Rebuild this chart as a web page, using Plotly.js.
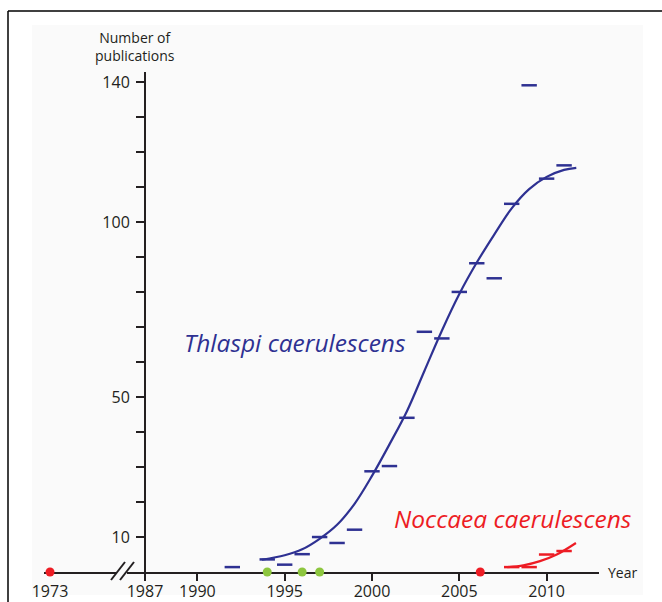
<!DOCTYPE html>
<html>
<head>
<meta charset="utf-8">
<script src="https://cdn.plot.ly/plotly-3.0.1.min.js"></script>
<style>html,body{margin:0;padding:0;background:#fff;}#chart{width:662px;height:602px;}</style>
</head>
<body>
<div id="chart"></div>
<script>
// ---- data ----
const thlaspiYears  = [1992, 1994, 1995, 1996, 1997, 1998, 1999, 2000, 2001, 2002, 2003, 2004, 2005, 2006, 2007, 2008, 2009, 2010, 2011];
const thlaspiCounts = [1.4, 3.6, 2.1, 5.1, 10.0, 8.3, 12.1, 28.8, 30.3, 44.1, 68.7, 66.8, 80.1, 88.3, 84.0, 105.3, 139.2, 112.5, 116.3];

const thlaspiFitYears  = [1993.7, 1995, 1996, 1997, 1998, 1999, 2000, 2001, 2002, 2003, 2004, 2005, 2006, 2007, 2008, 2009, 2010, 2011, 2011.7];
const thlaspiFitValues = [3.5, 4.8, 6.5, 9.5, 13.5, 19.5, 27.5, 36.5, 46.0, 57.5, 69.0, 79.5, 88.5, 96.5, 104.0, 109.5, 113.0, 115.0, 115.6];

const noccaeaYears  = [2008, 2009, 2010, 2011];
const noccaeaCounts = [1.4, 1.4, 5.0, 6.0];

const noccaeaFitYears  = [2007.75, 2008.67, 2009.62, 2010.58, 2011.68];
const noccaeaFitValues = [1.4, 1.9, 3.1, 5.0, 8.3];

const greenEventYears = [1994, 1996, 1997];
const greenEventValues = [0, 0, 0];
const redEventEarlyYears = [1973];
const redEventEarlyValues = [0];
const redEventLateYears = [2006.2];
const redEventLateValues = [0];

const earlyTickVals = [1973];
const earlyTickLabels = ['1973'];
const mainTickVals = [1987, 1990, 1995, 2000, 2005, 2010];
const mainTickLabels = ['1987', '1990', '1995', '2000', '2005', '2010'];
const yTickVals = [10, 20, 30, 40, 50, 60, 70, 80, 90, 100, 110, 120, 130, 140];
const yTickLabels = ['10', '', '', '', '50', '', '', '', '', '100', '', '', '', '140'];

const labelThlaspi = 'Thlaspi caerulescens';
const labelNoccaea = 'Noccaea caerulescens';
const yTitle = 'Number of<br>publications';
const xTitle = 'Year';

// ---- style ----
const BLUE = '#2e3192', RED = '#ed1c24', GREEN = '#8dc63f', INK = '#231f20';
const FONT = 'Open Sans, sans-serif';
const W = 662, H = 602, MT = 72, MB = 30;
const PH = H - MT - MB;
const px = v => v / W;
const py = v => (H - MB - v) / PH;

const traces = [
  {x: thlaspiFitYears, y: thlaspiFitValues, xaxis: 'x2', yaxis: 'y', mode: 'lines',
   line: {color: BLUE, width: 2.2, shape: 'spline', smoothing: 1}, cliponaxis: false, hoverinfo: 'skip'},
  {x: thlaspiYears, y: thlaspiCounts, xaxis: 'x2', yaxis: 'y', mode: 'markers',
   marker: {symbol: 'line-ew', size: 11, line: {color: BLUE, width: 2.5}}, cliponaxis: false, hoverinfo: 'skip'},
  {x: noccaeaFitYears, y: noccaeaFitValues, xaxis: 'x2', yaxis: 'y', mode: 'lines',
   line: {color: RED, width: 2.2, shape: 'spline', smoothing: 1}, cliponaxis: false, hoverinfo: 'skip'},
  {x: noccaeaYears, y: noccaeaCounts, xaxis: 'x2', yaxis: 'y', mode: 'markers',
   marker: {symbol: 'line-ew', size: 11, line: {color: RED, width: 2.5}}, cliponaxis: false, hoverinfo: 'skip'},
  {x: greenEventYears, y: greenEventValues, xaxis: 'x2', yaxis: 'y', mode: 'markers',
   marker: {symbol: 'circle', size: 9, color: GREEN}, cliponaxis: false, hoverinfo: 'skip'},
  {x: redEventLateYears, y: redEventLateValues, xaxis: 'x2', yaxis: 'y', mode: 'markers',
   marker: {symbol: 'circle', size: 9, color: RED}, cliponaxis: false, hoverinfo: 'skip'},
  {x: redEventEarlyYears, y: redEventEarlyValues, xaxis: 'x', yaxis: 'y', mode: 'markers',
   marker: {symbol: 'circle', size: 9, color: RED}, cliponaxis: false, hoverinfo: 'skip'}
];

const axisCommon = {
  showline: true, linecolor: INK, linewidth: 2, showgrid: false, zeroline: false,
  ticks: 'outside', ticklen: 8, tickwidth: 2, tickcolor: INK,
  tickfont: {family: FONT, size: 16, color: INK}, layer: 'below traces', fixedrange: true
};

const layout = {
  width: W, height: H,
  margin: {l: 0, r: 0, t: MT, b: MB, pad: 0},
  paper_bgcolor: '#ffffff', plot_bgcolor: 'rgba(0,0,0,0)',
  showlegend: false,
  xaxis: Object.assign({}, axisCommon, {
    domain: [px(44), px(116)], range: [1972.656, 1976.78], anchor: 'y',
    tickvals: earlyTickVals, ticktext: earlyTickLabels, ticklen: 7, tickcolor: 'rgba(0,0,0,0)',
    ticklabelstandoff: -3
  }),
  xaxis2: Object.assign({}, axisCommon, {
    domain: [px(127), px(599)], range: [1985.969, 2013.0], anchor: 'y',
    tickvals: mainTickVals, ticktext: mainTickLabels, ticklen: 7, ticklabelstandoff: -3
  }),
  yaxis: Object.assign({}, axisCommon, {
    range: [0, 143], anchor: 'free', position: px(145), side: 'left',
    tickvals: yTickVals, ticktext: yTickLabels, ticklabelstandoff: 3
  }),
  shapes: [
    {type: 'rect', xref: 'paper', yref: 'paper', x0: px(32), x1: px(643), y0: py(595), y1: py(25),
     fillcolor: '#fafafa', line: {width: 0}, layer: 'below'},
    {type: 'line', xref: 'paper', yref: 'paper', x0: px(8), x1: 1.01, y0: py(11), y1: py(11),
     line: {color: '#000', width: 1.5}},
    {type: 'line', xref: 'paper', yref: 'paper', x0: px(8), x1: px(8), y0: py(11), y1: py(610),
     line: {color: '#000', width: 1.5}},
    {type: 'line', xref: 'paper', yref: 'paper', x0: px(111), x1: px(125), y0: py(580), y1: py(562),
     line: {color: INK, width: 2}},
    {type: 'line', xref: 'paper', yref: 'paper', x0: px(120), x1: px(134), y0: py(580), y1: py(562),
     line: {color: INK, width: 2}}
  ],
  annotations: [
    {text: yTitle, xref: 'paper', yref: 'paper', x: px(135), y: py(47), xanchor: 'center', yanchor: 'middle',
     showarrow: false, align: 'center', font: {family: FONT, size: 14, color: INK}},
    {text: xTitle, xref: 'paper', yref: 'y', x: px(606), y: 0, xanchor: 'left', yanchor: 'middle',
     showarrow: false, font: {family: FONT, size: 14, color: INK}},
    {text: '<i>' + labelThlaspi + '</i>', xref: 'x2', yref: 'y', x: 1995.6, y: 65.5,
     xanchor: 'center', yanchor: 'middle', showarrow: false, font: {family: FONT, size: 24.5, color: BLUE}},
    {text: '<i>' + labelNoccaea + '</i>', xref: 'x2', yref: 'y', x: 2008.1, y: 15.4,
     xanchor: 'center', yanchor: 'middle', showarrow: false, font: {family: FONT, size: 24.5, color: RED}}
  ]
};

Plotly.newPlot('chart', traces, layout, {displayModeBar: false, staticPlot: true});
</script>
</body>
</html>
